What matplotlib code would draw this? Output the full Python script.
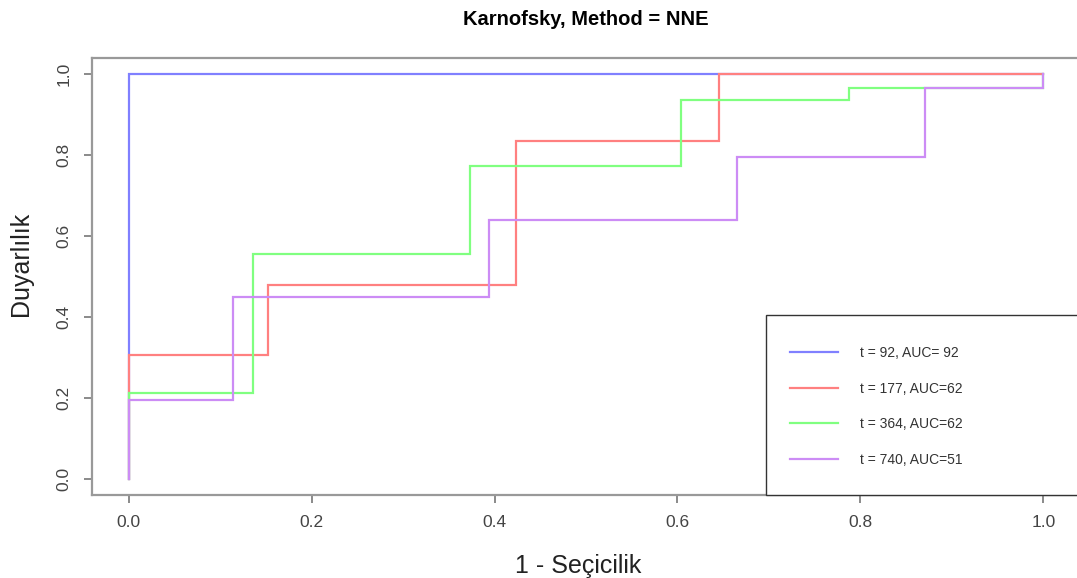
"""Time-dependent ROC curves for Karnofsky score (NNE method) at four time points."""

import matplotlib.pyplot as plt

plt.rcParams["font.family"] = ["Liberation Sans", "DejaVu Sans"]

# ROC corner points (1 - specificity, sensitivity) for each time point
FPR_92 = [0.0, 0.0, 1.0]
TPR_92 = [0.0, 0.0, 1.0]
FPR_177 = [0.0, 0.152, 0.423, 0.645, 1.0]
TPR_177 = [0.0, 0.305, 0.479, 0.834, 1.0]
FPR_364 = [0.0, 0.136, 0.373, 0.604, 0.788, 1.0, 1.0]
TPR_364 = [0.0, 0.212, 0.556, 0.773, 0.936, 0.965, 1.0]
FPR_740 = [0.0, 0.114, 0.394, 0.665, 0.871, 1.0, 1.0]
TPR_740 = [0.0, 0.195, 0.449, 0.640, 0.795, 0.965, 1.0]

LABELS = ["t = 92, AUC= 92", "t = 177, AUC=62", "t = 364, AUC=62", "t = 740, AUC=51"]
COLORS = ["#8080FF", "#FF8080", "#80FF80", "#CC8CF5"]

W, H = 1077, 578
fig = plt.figure(figsize=(W / 100, H / 100), dpi=100)
ax = fig.add_axes([92 / W, 1 - 495 / H, (1080 - 92) / W, (495 - 58) / H])

curves = [(FPR_92, TPR_92), (FPR_177, TPR_177), (FPR_364, TPR_364), (FPR_740, TPR_740)]
for (fpr, tpr), color, label in zip(curves, COLORS, LABELS):
    ax.plot(fpr, tpr, drawstyle="steps-pre", color=color, lw=1.6,
            label=label, solid_joinstyle="miter")

ax.set_xlim(-0.04, 1.04)
ax.set_ylim(-0.04, 1.04)
ticks = [0.0, 0.2, 0.4, 0.6, 0.8, 1.0]
ax.set_xticks(ticks, [f"{t:.1f}" for t in ticks])
ax.set_yticks(ticks, [f"{t:.1f}" for t in ticks])
for lbl in ax.get_yticklabels():
    lbl.set_rotation(90)
    lbl.set_va("center")

for sp in ax.spines.values():
    sp.set_color("#999999")
    sp.set_linewidth(1.6)
ax.tick_params(direction="out", length=5.5, width=1.2, color="#777777",
               labelcolor="#444444", labelsize=12.5)
ax.tick_params(axis="x", pad=9)
ax.tick_params(axis="y", pad=9)

ax.set_xlabel("1 - Seçicilik", fontsize=18, color="#222222")
ax.set_ylabel("Duyarlılık", fontsize=18, color="#222222")
ax.xaxis.set_label_coords(0.492, -0.135)
ax.yaxis.set_label_coords(-0.06, 0.53)
ax.set_title("Karnofsky, Method = NNE", fontsize=14.5, fontweight="bold", pad=24)

# legend box in the lower right corner, running off the plot edge
box = plt.Rectangle((0.697, -0.04), 0.5, 0.445, transform=ax.transData,
                    facecolor="white", edgecolor="#333333", lw=1.0, zorder=3,
                    clip_on=False)
ax.add_patch(box)
leg = ax.legend(loc="upper left", bbox_to_anchor=(0.7235, 0.328),
                bbox_transform=ax.transData, frameon=False, fontsize=10,
                handlelength=3.45, handletextpad=1.58, labelspacing=1.55,
                borderpad=0, borderaxespad=0)
leg.set_zorder(4)
for t in leg.get_texts():
    t.set_color("#333333")

fig.savefig("out.png", dpi=100)
